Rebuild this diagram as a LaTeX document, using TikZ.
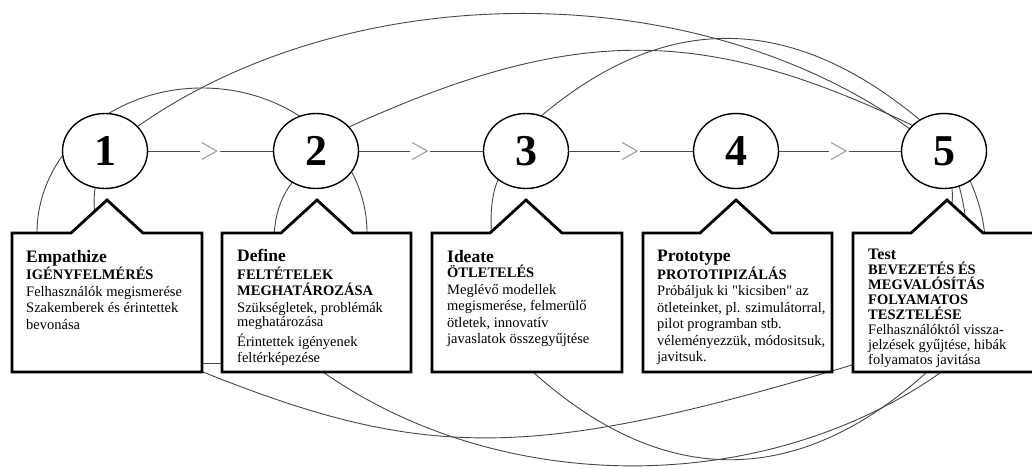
\documentclass[tikz,border=0pt]{standalone}
\usepackage{fontspec}
\setmainfont{Liberation Serif}[Ligatures=TeXOff]
\usetikzlibrary{shapes.geometric,calc}
\pgfdeclarelayer{background}
\pgfsetlayers{background,main}
\newcommand{\hdf}{\fontsize{17.5}{17.5}\selectfont\bfseries}
\begin{document}
\begin{tikzpicture}[x=1pt,y=-1pt,
  num/.style={ellipse, draw=black, line width=1.4pt, fill=white, minimum width=85pt, minimum height=75pt, inner sep=0pt, font=\fontsize{44}{44}\selectfont\bfseries},
  link/.style={draw=black!70, line width=0.9pt},
  chev/.style={draw=black!40, line width=1pt},
  arcline/.style={draw=black!72, line width=0.9pt},
  callout/.style={draw=black, line width=2.8pt, fill=white, line join=miter},
  txt/.style={anchor=north west, inner sep=0pt, align=left, font=\fontsize{14.5}{16.5}\selectfont}
]
\useasboundingbox (0,0) rectangle (1032,468);

% circles
\node[num] (c1) at (105,151) {1};
\node[num] (c2) at (316,151) {2};
\node[num] (c3) at (526,151) {3};
\node[num] (c4) at (736,151) {4};
\node[num] (c5) at (944,151) {5};

\begin{pgfonlayer}{background}
  \fill[white] (0,0) rectangle (1032,468);
  % top arcs
  \draw[arcline] (37,233) .. controls (37,153) and (111,88) .. (202,88)
                 .. controls (293,88) and (367,153) .. (367,233);
  \draw[arcline] (c1.37) .. controls (354,-25) and (697,-24) .. (c5.147);
  \draw[arcline] (c2.36) .. controls (574,25) and (702,25) .. (c5.141);
  \draw[arcline] (c3.66) .. controls (665,12) and (790,12) .. (c5.128);
  % bottom arcs
  \coordinate (q1) at (203,372);
  \coordinate (q2) at (852,365);
  \draw[arcline] (c1.255) .. controls (85,260) and (160,350) .. (q1)
                 .. controls (425,461) and (532,461) .. (q2)
                 .. controls (900,345) and (958,235) .. (c5.282);
  \coordinate (r1) at (323,372);
  \coordinate (r2) at (940,373);
  \draw[arcline] (c2.233) .. controls (250,235) and (290,340) .. (r1)
                 .. controls (501,497) and (763,497) .. (r2)
                 .. controls (975,330) and (972,230) .. (c5.293);
  \coordinate (s1) at (533,372);
  \coordinate (s2) at (927,372);
  \draw[arcline] (c3.226) .. controls (478,225) and (505,330) .. (s1)
                 .. controls (663,489) and (797,489) .. (s2)
                 .. controls (985,300) and (1000,250) .. (c5.311);
  \draw[arcline] (198,363) -- (226,363);
  % callout boxes
  \foreach \L/\R/\cx in {12/202/107, 222/411/317, 432/622/526, 643/832/736, 853/1045/947}{
    \draw[callout] (\L,233) -- ({\cx-36},233) -- (\cx,200) -- ({\cx+36},233)
        -- (\R,233) -- (\R,372) -- (\L,372) -- cycle;
  }
\end{pgfonlayer}

% flow connectors with chevrons
\foreach \a/\b in {c1/c2,c2/c3,c3/c4,c4/c5}{
  \coordinate (m) at ($(\a.east)!0.55!(\b.west)$);
  \draw[link] (\a.east) -- ($(m)+(-17,0)$);
  \draw[link] ($(m)+(3,0)$) -- (\b.west);
  \draw[chev] ($(m)+(-15,-8.5)$) -- (m) -- ($(m)+(-15,8.5)$);
}

% texts
\node[txt] (t1) at (26,250) {{\hdf Empathize}\\[1pt]
  \textbf{IGÉNYFELMÉRÉS}\\
  Felhasználók megismerése\\
  Szakemberek és érintettek\\
  bevonása};
\node[txt] (t2) at (237,249) {{\hdf Define}\\[1pt]
  \textbf{FELTÉTELEK}\\
  \textbf{MEGHATÁROZÁSA}\\
  Szükségletek, problémák\\[-2pt]
  meghatározása\\[3pt]
  Érintettek igényenek\\
  feltérképezése};
\node[txt] (t3) at (447,250) {{\hdf Ideate}\\[-1pt]
  \textbf{ÖTLETELÉS}\\
  Meglévő modellek\\
  megismerése, felmerülő\\
  ötletek, innovatív\\
  javaslatok összegyűjtése};
\node[txt] (t4) at (657,250) {{\hdf Prototype}\\[1pt]
  \textbf{PROTOTIPIZÁLÁS}\\
  Próbáljuk ki "kicsiben" az\\
  ötleteinket, pl. szimulátorral,\\
  pilot programban stb.\\
  véleményezzük, módositsuk,\\
  javitsuk.};
\node[txt, font=\fontsize{14.5}{15}\selectfont] (t5) at (868,249) {{\fontsize{16}{16}\selectfont\bfseries Test}\\
  \textbf{BEVEZETÉS ÉS}\\
  \textbf{MEGVALÓSÍTÁS}\\
  \textbf{FOLYAMATOS}\\
  \textbf{TESZTELÉSE}\\
  Felhasználóktól vissza-\\
  jelzések gyűjtése, hibák\\
  folyamatos javitása};
\end{tikzpicture}
\end{document}
